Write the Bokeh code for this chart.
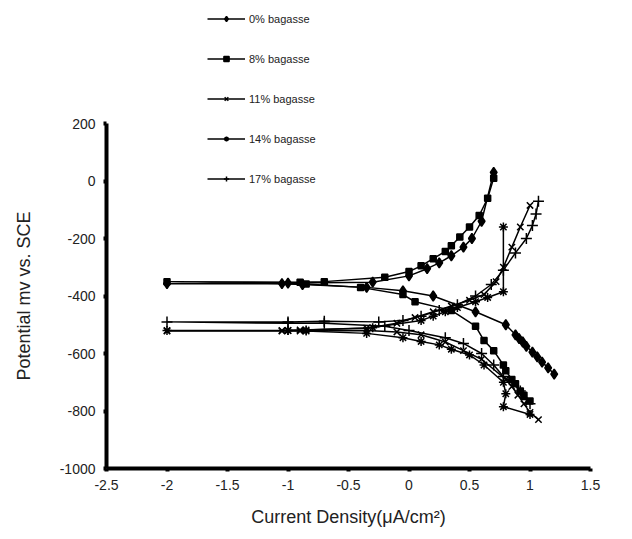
from bokeh.plotting import figure
from bokeh.models import Legend, LegendItem, Range1d, FixedTicker, Title
from bokeh.embed import file_html
from bokeh.resources import INLINE

series_labels = ["0% bagasse", "8% bagasse", "11% bagasse", "14% bagasse", "17% bagasse"]

# 0% bagasse (cathodic end -> left -> anodic end)
x_0 = [1.2, 1.15, 1.1, 1.06, 1.02, 0.97, 0.94, 0.91, 0.88, 0.8, 0.55, 0.2, -0.05, -0.35, -0.88, -1.05, -2.0,
       -1.0, -0.3, 0.0, 0.15, 0.25, 0.35, 0.45, 0.52, 0.6, 0.7]
y_0 = [-672, -650, -630, -612, -595, -575, -560, -548, -535, -500, -455, -400, -382, -370, -360, -357, -357,
       -355, -352, -330, -305, -285, -260, -230, -200, -140, 30]

# 8% bagasse
x_8 = [1.0, 0.95, 0.92, 0.88, 0.85, 0.8, 0.78, 0.7, 0.62, 0.55, 0.35, 0.05, -0.05, -0.4, -0.85, -2.0,
       -0.9, -0.7, -0.2, 0.0, 0.1, 0.2, 0.3, 0.35, 0.42, 0.5, 0.58, 0.65, 0.7]
y_8 = [-765, -745, -730, -705, -690, -660, -640, -590, -555, -505, -450, -420, -395, -370, -358, -350,
       -352, -350, -335, -315, -295, -270, -245, -225, -195, -160, -120, -60, 10]

# 11% bagasse
x_11 = [1.07, 1.0, 0.95, 0.9, 0.85, 0.8, 0.6, 0.45, 0.3, 0.1, -0.1, -0.35, -0.9, -1.05, -2.0,
        -1.05, -0.9, -0.35, -0.1, 0.05, 0.2, 0.35, 0.5, 0.62, 0.72, 0.78, 0.85, 0.92, 1.0]
y_11 = [-830, -805, -775, -745, -715, -690, -620, -590, -560, -535, -525, -520, -522, -522, -522,
        -520, -518, -512, -495, -475, -455, -435, -415, -395, -350, -300, -230, -160, -85]

# 14% bagasse
x_14 = [1.0, 0.78, 0.8, 0.78, 0.62, 0.5, 0.35, 0.25, 0.1, -0.05, -0.35, -0.85, -1.0, -2.0,
        -1.0, -0.85, -0.3, 0.1, 0.2, 0.3, 0.4, 0.55, 0.65, 0.78, 0.78]
y_14 = [-812, -785, -740, -700, -640, -605, -585, -570, -558, -545, -530, -522, -520, -520,
        -520, -518, -510, -485, -470, -455, -440, -420, -405, -385, -160]

# 17% bagasse
x_17 = [1.0, 0.97, 0.92, 0.85, 0.78, 0.7, 0.6, 0.45, 0.3, 0.0, -0.2, -0.7, -1.0, -2.0,
        -1.0, -0.7, -0.25, -0.05, 0.1, 0.25, 0.4, 0.55, 0.68, 0.78, 0.88, 0.97, 1.02, 1.05, 1.07]
y_17 = [-775, -760, -730, -700, -680, -640, -600, -565, -545, -520, -505, -495, -495, -490,
        -490, -488, -490, -485, -470, -450, -430, -400, -360, -310, -250, -200, -155, -115, -70]

x_ticks = [-2.5, -2.0, -1.5, -1.0, -0.5, 0.0, 0.5, 1.0, 1.5]
x_tick_labels = ["-2.5", "-2", "-1.5", "-1", "-0.5", "0", "0.5", "1", "1.5"]
y_ticks = [200, 0, -200, -400, -600, -800, -1000]
y_tick_labels = ["200", "0", "-200", "-400", "-600", "-800", "-1000"]
y_min, y_max = -1000, 200

FONT = "Liberation Sans"

# frame spans the full page height so that the legend above the axis is not clipped
px_per_unit = 345.0 / (y_max - y_min)
y_top = y_max + 123.0 / px_per_unit

p = figure(width=632, height=539, output_backend="svg", toolbar_location=None,
           x_range=Range1d(-2.5, 1.5), y_range=Range1d(y_min, y_top),
           min_border_left=106, min_border_right=42, min_border_top=0, min_border_bottom=71)
p.outline_line_color = None
p.xgrid.visible = False
p.ygrid.visible = False
p.background_fill_color = "white"

for ax in (p.xaxis[0], p.yaxis[0]):
    ax.axis_line_width = 4
    ax.axis_line_color = "black"
    ax.major_tick_line_width = 4
    ax.major_tick_line_color = "black"
    ax.major_tick_in = 0
    ax.major_tick_out = 3
    ax.minor_tick_line_color = None
    ax.major_label_text_font = FONT
    ax.major_label_text_font_size = "14px"
    ax.major_label_text_color = "#222222"
    ax.axis_label_text_font = FONT
    ax.axis_label_text_font_size = "18px"
    ax.axis_label_text_font_style = "normal"
    ax.axis_label_text_color = "#222222"

p.yaxis[0].bounds = (y_min, y_max)
p.xaxis[0].ticker = FixedTicker(ticks=x_ticks)
p.xaxis[0].major_label_overrides = dict(zip(x_ticks, x_tick_labels))
p.yaxis[0].ticker = FixedTicker(ticks=y_ticks)
p.yaxis[0].major_label_overrides = dict(zip(y_ticks, y_tick_labels))
p.xaxis[0].axis_label = "Current Density(\u03bcA/cm\u00b2)"
p.xaxis[0].major_label_standoff = 8
p.yaxis[0].major_label_standoff = 8
p.xaxis[0].axis_label_standoff = 14

# spacer panel, then the y-axis title centred on the visible axis (200 .. -1000)
spacer = Title(text=" ", text_font_size="1px", standoff=8)
p.add_layout(spacer, "left")
ytitle = Title(text="Potential mv vs. SCE", align="left", offset=88, standoff=23,
               text_font=FONT, text_font_size="18px", text_font_style="normal", text_color="#222222")
p.add_layout(ytitle, "left")

series = [
    (x_0, y_0, "diamond", 10),
    (x_8, y_8, "square", 6),
    (x_11, y_11, "x", 9),
    (x_14, y_14, "asterisk", 9),
    (x_17, y_17, "cross", 11),
]

items = []
for (xs, ys, marker, size), lab in zip(series, series_labels):
    r1 = p.line(xs, ys, line_color="black", line_width=1.5)
    r2 = p.scatter(xs, ys, marker=marker, size=size, line_color="black", fill_color="black", line_width=1.5)
    items.append(LegendItem(label=lab, renderers=[r1, r2]))

legend = Legend(items=items, location=(101, 283), orientation="vertical",
                border_line_color=None, background_fill_alpha=0,
                padding=0, margin=0, spacing=27, glyph_height=13, label_height=13,
                glyph_width=38, label_standoff=4,
                label_text_font=FONT, label_text_font_size="11px", label_text_color="#222222")
p.add_layout(legend, "center")

open("out.html", "w").write(file_html(p, INLINE))
